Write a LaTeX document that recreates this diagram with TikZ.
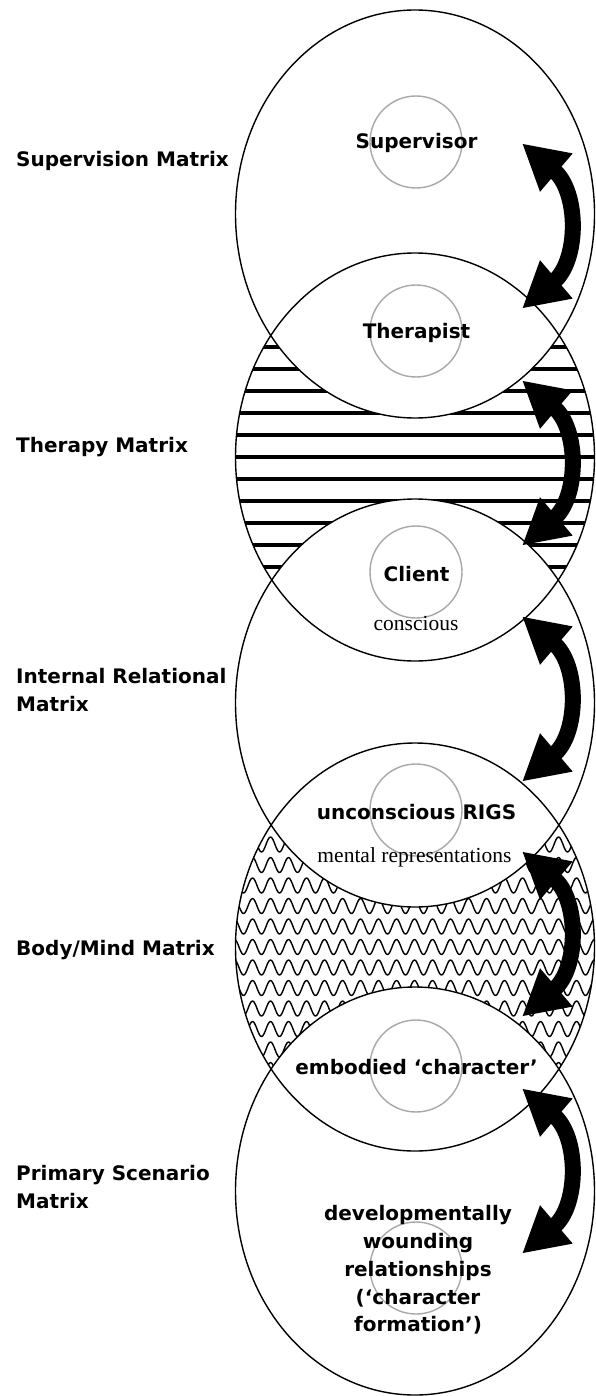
\documentclass[tikz,border=0pt]{standalone}
\usepackage{fontspec}
\newfontfamily\sansb{DejaVu Sans}
\newfontfamily\serifr{Liberation Serif}
\usetikzlibrary{calc}
\definecolor{ring}{gray}{0.66}
\begin{document}
\begin{tikzpicture}[x=1pt,y=-1pt,
  matrixring/.style={draw=black,line width=1.4pt},
  innerring/.style={draw=ring,line width=1.4pt},
  rolelabel/.style={font=\sansb\bfseries\fontsize{20}{24}\selectfont,inner sep=0pt,anchor=base},
  sidelabel/.style={font=\sansb\bfseries\fontsize{20}{24}\selectfont,inner sep=0pt,anchor=base west},
  subnote/.style={font=\serifr\fontsize{21.5}{24}\selectfont,inner sep=0pt,anchor=base},
  shaft/.style={line width=16pt,line cap=butt},
  headfill/.style={fill=black},
  stripe/.style={line width=4.5pt},
  wave/.style={line width=1.4pt,line join=round}]
\useasboundingbox (0,0) rectangle (595,1396);
\def\rx{179.5}
\def\ry{204}
% ---- therapy matrix stripes ----
\begin{scope}
  \clip (415,457) ellipse [x radius=\rx, y radius=\ry];
  \foreach \k in {-6,...,6}
    \draw[stripe] (230,{457+22*\k}) -- (600,{457+22*\k});
  \fill[white] (415,214) ellipse [x radius=\rx, y radius=\ry];
  \fill[white] (415,703) ellipse [x radius=\rx, y radius=\ry];
\end{scope}
% ---- body/mind matrix waves ----
\begin{scope}
  \clip (415,947) ellipse [x radius=\rx, y radius=\ry];
  \foreach \k in {-10,...,10}
    \draw[wave] (230,{947+20.5*\k})
      \foreach \j in {0,...,20} { sin ++(4.5,-7.5) cos ++(4.5,7.5) sin ++(4.5,7.5) cos ++(4.5,-7.5) };
  \fill[white] (415,703) ellipse [x radius=\rx, y radius=\ry];
  \fill[white] (415,1191) ellipse [x radius=\rx, y radius=\ry];
\end{scope}
% ---- matrix ellipses ----
\path[matrixring] (415,214) ellipse [x radius=\rx, y radius=\ry];
\path[matrixring] (415,457) ellipse [x radius=\rx, y radius=\ry];
\path[matrixring] (415,703) ellipse [x radius=\rx, y radius=\ry];
\path[matrixring] (415,947) ellipse [x radius=\rx, y radius=\ry];
\path[matrixring] (415,1191) ellipse [x radius=\rx, y radius=\ry];
% ---- inner grey circles ----
\foreach \cy in {142,331,572,810,1066,1268}
  \path[innerring] (416,\cy) circle [radius=46];
% ---- side labels ----
\node[sidelabel] (supm) at (16,166.5) {Supervision Matrix};
\node[sidelabel] (thm) at (16,452) {Therapy Matrix};
\node[sidelabel] (irm1) at (16,683) {Internal Relational};
\node[sidelabel] (irm2) at (16,711.5) {Matrix};
\node[sidelabel] (bmm) at (16,955) {Body/Mind Matrix};
\node[sidelabel] (psm1) at (16,1180) {Primary Scenario};
\node[sidelabel] (psm2) at (16,1208) {Matrix};
% ---- role labels ----
\node[rolelabel] (sup) at (416.5,148.5) {Supervisor};
\node[rolelabel] (ther) at (416.5,338) {Therapist};
\node[rolelabel] (cli) at (416.5,581) {Client};
\node[subnote] (consc) at (416,630) {conscious};
\node[rolelabel] (rigs) at (416.5,819) {unconscious RIGS};
\node[subnote] (menrep) at (414.5,862) {mental representations};
\node[rolelabel] (emb) at (416.5,1074) {embodied ‘character’};
\node[rolelabel] (dev1) at (418,1220.7) {developmentally};
\node[rolelabel] (dev2) at (418,1248.5) {wounding};
\node[rolelabel] (dev3) at (418,1276.2) {relationships};
\node[rolelabel] (dev4) at (418,1304) {(‘character};
\node[rolelabel] (dev5) at (418,1331.7) {formation’)};
% ---- double-headed curved arrows ----
\foreach \i/\yt in {1/144,2/381,3/617,4/852,5/1089} {
  \coordinate (at\i) at (522.7,\yt);
  \coordinate (ab\i) at (522.7,{\yt+164});
  \coordinate (sa\i) at ($(at\i)+(31,26.2)$);
  \coordinate (sb\i) at ($(ab\i)+(31,-26.2)$);
  \draw[shaft] (sa\i) .. controls ($(sa\i)+(25.5,21.4)$) and ($(sb\i)+(25.5,-21.4)$) .. (sb\i);
  \path[headfill] (at\i) -- ++(17.3,47.8) -- ++(32.7,-38.4) -- cycle;
  \path[headfill] (ab\i) -- ++(17.3,-47.8) -- ++(32.7,38.4) -- cycle;
}
\end{tikzpicture}
\end{document}
